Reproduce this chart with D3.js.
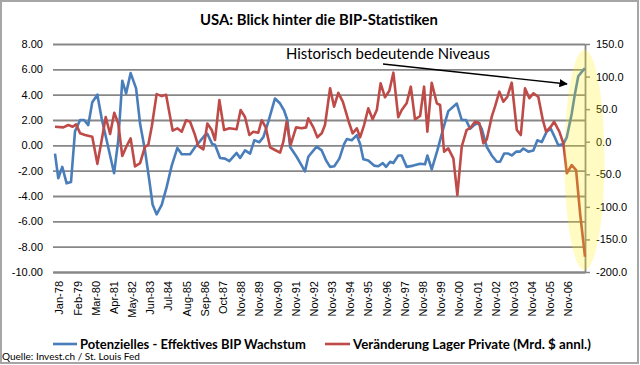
<!DOCTYPE html>
<html>
<head>
<meta charset="utf-8">
<script src="https://cdn.jsdelivr.net/npm/d3@7"></script>
<style>
  body { margin: 0; background: #fff; }
  svg { display: block; font-family: Lato, 'Open Sans', sans-serif; }
  .axis text { font-size: 11px; fill: #000; }
</style>
</head>
<body>
<div id="chart"></div>
<script>
// category labels along the bottom (one every ~13 / 12 months as in the source)
const xLabels = ['Jan-78', 'Feb-79', 'Mar-80', 'Apr-81', 'May-82', 'Jun-83', 'Jul-84', 'Aug-85',
  'Sep-86', 'Oct-87', 'Nov-88', 'Nov-89', 'Nov-90', 'Nov-91', 'Nov-92', 'Nov-93', 'Nov-94',
  'Nov-95', 'Nov-96', 'Nov-97', 'Nov-98', 'Nov-99', 'Nov-00', 'Nov-01', 'Nov-02', 'Nov-03',
  'Nov-04', 'Nov-05', 'Nov-06'];

const leftTicks = [-10, -8, -6, -4, -2, 0, 2, 4, 6, 8];
const rightTicks = [-200, -150, -100, -50, 0, 50, 100, 150];

// [position on label axis, value] - potential minus actual GDP growth (left axis)
const gapSeries = [
  [-0.22, -0.66], [-0.04, -2.6], [0.18, -1.7], [0.42, -3.0], [0.66, -2.9], [0.88, 1.1],
  [1.16, 2.0], [1.38, 2.0], [1.61, 1.6], [1.83, 3.4], [2.11, 4.0], [2.35, 2.1], [2.62, 0.4],
  [3.03, -2.2], [3.26, 0.4], [3.48, 5.1], [3.69, 4.1], [3.94, 5.7], [4.24, 4.5], [4.46, 1.7],
  [4.73, -0.4], [4.97, -2.8], [5.15, -4.7], [5.37, -5.45], [5.65, -4.7], [5.92, -3.3],
  [6.2, -1.6], [6.51, -0.2], [6.75, -0.7], [7.21, -0.7], [7.48, -0.15], [8.03, 0.8],
  [8.16, 0.9], [8.43, 0.1], [8.58, 0.05], [8.86, -1.0], [9.13, -1.05], [9.37, -1.25],
  [9.77, -0.6], [9.96, -1.0], [10.23, -0.4], [10.51, -0.65], [10.74, 0.4], [11.02, 0.25],
  [11.24, 0.65], [11.51, 1.85], [11.88, 3.7], [12.16, 3.3], [12.38, 2.75], [12.56, 2.0],
  [12.71, -0.13], [13.07, -0.9], [13.35, -1.6], [13.53, -2.05], [13.71, -0.9], [14.17, -0.1],
  [14.45, -0.4], [14.69, -1.2], [14.91, -1.7], [15.14, -1.65], [15.42, -1.05], [15.68, 0.1],
  [15.83, 0.5], [16.1, 0.4], [16.38, 0.8], [16.56, 0.1], [16.74, -1.1], [17.01, -1.2],
  [17.33, -1.6], [17.56, -1.65], [17.81, -1.4], [17.99, -1.7], [18.21, -1.3], [18.39, -1.4],
  [18.66, -0.8], [18.85, -0.8], [19.12, -1.7], [19.49, -1.6], [19.86, -1.45], [20.13, -1.5],
  [20.26, -0.8], [20.5, -1.9], [20.81, -0.4], [21.11, 1.2], [21.41, 2.7], [21.88, 3.3],
  [22.15, 2.0], [22.39, 2.0], [22.61, 1.3], [22.83, 1.6], [23.06, 1.8], [23.25, 1.3],
  [23.53, -0.13], [23.8, -0.8], [24.08, -1.3], [24.26, -1.3], [24.48, -0.65], [24.71, -0.65],
  [24.9, -0.8], [25.14, -0.5], [25.36, -0.5], [25.54, -0.25], [25.81, -0.5], [26.09, -0.4],
  [26.31, 0.4], [26.55, 0.25], [26.83, 1.1], [27.05, 1.3], [27.28, 0.6], [27.46, 0.0],
  [27.74, 0.1], [27.93, 0.65], [28.2, 2.5], [28.38, 4.1], [28.56, 5.45], [28.81, 5.9],
  [28.93, 6.1],
];

// [position on label axis, value] - change in private inventories, bn $ annualised (right axis)
const inventorySeries = [
  [-0.22, 23], [0.24, 22], [0.51, 25.6], [0.75, 23], [0.94, 26.7], [1.16, 12.9], [1.43, 10.3],
  [1.83, 7.7], [2.11, -34], [2.35, 2.6], [2.57, 38], [2.81, 11.8], [3.04, 44.5], [3.26, 28],
  [3.48, -22], [3.72, -6.6], [3.94, 5.2], [4.18, -38], [4.46, -33], [4.73, -7.7], [4.91, -5],
  [5.1, 23], [5.37, 73], [5.65, 70], [5.89, 72], [6.25, 17], [6.51, 20.6], [6.75, 15.4],
  [6.99, 33], [7.21, 30.7], [7.48, 10.3], [7.66, -6.6], [7.94, -11.7], [8.16, 28], [8.4, 18],
  [8.58, 2.6], [8.82, 64], [9.08, 18], [9.37, 20.6], [9.77, 19], [9.99, 48.7], [10.23, 38],
  [10.47, 10.3], [10.69, 15.4], [10.96, 13.8], [11.15, 33], [11.37, 22], [11.61, -8.6],
  [11.88, -12.7], [12.16, -16.9], [12.34, 0], [12.52, 30.7], [12.74, -5], [13.04, 22],
  [13.35, 20.6], [13.59, 22], [13.71, 36], [13.99, 22], [14.21, 6.8], [14.45, 12.9],
  [14.63, 25.6], [14.91, 82], [15.13, 53.8], [15.36, 75], [15.61, 61.4], [15.91, 33],
  [16.15, 12.9], [16.38, 20.6], [16.56, 6.8], [16.78, 25.6], [17.01, 51.3], [17.25, 34.4],
  [17.48, 48.7], [17.69, 89.7], [17.93, 68.2], [18.17, 78.3], [18.39, 106], [18.66, 37.5],
  [18.85, 48.7], [19.12, 59], [19.35, 84.5], [19.58, 34.4], [19.86, 39.5], [20.08, 84.5],
  [20.26, 15.4], [20.5, 90.6], [20.78, 59], [20.96, 56.4], [21.18, -15.4], [21.41, -10.1],
  [21.69, -25.5], [21.91, -81.9], [22.15, -7.7], [22.42, 18], [22.65, 22], [22.88, 30.7],
  [23.12, 28.3], [23.34, -2.5], [23.53, 3.7], [23.8, 38.4], [23.98, 53.8], [24.22, 76.8],
  [24.44, 61.4], [24.66, 69.1], [24.9, 90.6], [25.18, 18], [25.4, 10.3], [25.63, 82],
  [25.87, 66.7], [26.09, 74.3], [26.36, 69.1], [26.61, 33.3], [26.79, 15.4], [27.05, 23],
  [27.23, 30.7], [27.52, 15.4], [27.74, -2.5], [27.93, -48.5], [28.2, -35.8], [28.44, -43.5],
  [28.66, -110], [28.93, -176.6],
];

const seriesNames = ['Potenzielles - Effektives BIP Wachstum', 'Veränderung Lager Private (Mrd. $ annl.)'];
const seriesColors = ['#4a7ebb', '#be4b48'];

const width = 640;
const height = 365;
const plot = { left: 53, right: 585, top: 44, bottom: 272 };

// shrink / grow a text node so it spans the width it has in the original
function fitText(sel, target) {
  const node = sel.node();
  const size = parseFloat(sel.attr('font-size'));
  const len = node.getComputedTextLength();
  if (len > 0) sel.attr('font-size', (size * target / len).toFixed(2));
}

const svg = d3.select('#chart')
  .append('svg')
  .attr('width', width)
  .attr('height', height);

svg.append('rect')
  .attr('x', 1)
  .attr('y', 1)
  .attr('width', width - 3)
  .attr('height', height - 3)
  .attr('fill', '#fff')
  .attr('stroke', '#a6a6a6')
  .attr('stroke-width', 2);

const xScale = d3.scaleLinear()
  .domain([-0.33, 28.93])
  .range([plot.left, plot.right]);

const yLeft = d3.scaleLinear()
  .domain([-10, 8])
  .range([plot.bottom, plot.top]);

const yRight = d3.scaleLinear()
  .domain([-200, 150])
  .range([plot.bottom, plot.top]);

// gridlines
svg.append('g')
  .attr('class', 'grid')
  .attr('transform', `translate(${plot.left},0)`)
  .call(d3.axisLeft(yLeft)
    .tickValues(leftTicks)
    .tickSize(-(plot.right - plot.left))
    .tickFormat(''))
  .call((g) => g.select('.domain').remove())
  .call((g) => g.selectAll('line').attr('stroke', '#878787').attr('stroke-width', 1.8));

// left axis labels
svg.append('g')
  .attr('class', 'axis')
  .attr('transform', `translate(${plot.left},0)`)
  .call(d3.axisLeft(yLeft)
    .tickValues(leftTicks)
    .tickSize(0)
    .tickPadding(10)
    .tickFormat((d) => d.toFixed(2)))
  .call((g) => g.select('.domain').remove());

// bottom axis: category labels rotated
const xAxis = svg.append('g')
  .attr('class', 'axis')
  .attr('transform', `translate(0,${plot.bottom})`)
  .call(d3.axisBottom(xScale)
    .tickValues(d3.range(xLabels.length))
    .tickSize(0)
    .tickFormat((i) => xLabels[i]));

xAxis.select('.domain').attr('stroke', '#878787').attr('stroke-width', 1.8);
xAxis.selectAll('.tick text')
  .attr('transform', 'rotate(-90)')
  .attr('x', -9)
  .attr('y', 0)
  .attr('dy', '0.35em')
  .style('text-anchor', 'end');

// right axis
const rightAxis = svg.append('g')
  .attr('class', 'axis')
  .attr('transform', `translate(${plot.right},0)`)
  .call(d3.axisRight(yRight)
    .tickValues(rightTicks)
    .tickSize(5)
    .tickSizeOuter(0)
    .tickPadding(6)
    .tickFormat((d) => d.toFixed(1)));

rightAxis.select('.domain').attr('stroke', '#878787').attr('stroke-width', 1.8);
rightAxis.selectAll('.tick line').attr('stroke', '#878787').attr('stroke-width', 1.5);

// series lines
const gapLine = d3.line()
  .x((d) => xScale(d[0]))
  .y((d) => yLeft(d[1]));

const invLine = d3.line()
  .x((d) => xScale(d[0]))
  .y((d) => yRight(d[1]));

svg.append('path')
  .datum(gapSeries)
  .attr('fill', 'none')
  .attr('stroke', seriesColors[0])
  .attr('stroke-width', 2.6)
  .attr('stroke-linejoin', 'round')
  .attr('d', gapLine);

svg.append('path')
  .datum(inventorySeries)
  .attr('fill', 'none')
  .attr('stroke', seriesColors[1])
  .attr('stroke-width', 2.6)
  .attr('stroke-linejoin', 'round')
  .attr('d', invLine);

// highlight ellipse over the latest readings
const last = gapSeries[gapSeries.length - 1];
svg.append('ellipse')
  .attr('cx', xScale(last[0]) - 0.5)
  .attr('cy', 160)
  .attr('rx', 20)
  .attr('ry', 110)
  .attr('fill', '#ffee00')
  .attr('opacity', 0.24);

// annotation
svg.append('defs')
  .append('marker')
  .attr('id', 'arrow')
  .attr('viewBox', '0 0 10 10')
  .attr('refX', 9)
  .attr('refY', 5)
  .attr('markerWidth', 6)
  .attr('markerHeight', 6)
  .attr('orient', 'auto')
  .append('path')
  .attr('d', 'M0,0L10,5L0,10z')
  .attr('fill', '#000');

svg.append('line')
  .attr('x1', 383)
  .attr('y1', 64)
  .attr('x2', 567)
  .attr('y2', 84)
  .attr('stroke', '#000')
  .attr('stroke-width', 1.4)
  .attr('marker-end', 'url(#arrow)');

svg.append('text')
  .attr('x', 286)
  .attr('y', 59)
  .attr('font-size', 16)
  .text('Historisch bedeutende Niveaus')
  .call(fitText, 204);

// title
svg.append('text')
  .attr('x', 319)
  .attr('y', 25)
  .attr('text-anchor', 'middle')
  .attr('font-size', 15)
  .attr('font-weight', 'bold')
  .text('USA: Blick hinter die BIP-Statistiken')
  .call(fitText, 238);

// legend
const legendItems = [
  { x0: 53, x1: 77, tx: 80, w: 226 },
  { x0: 325, x1: 350, tx: 353, w: 238 },
];

const legend = svg.append('g').attr('class', 'legend');
legendItems.forEach((item, i) => {
  legend.append('line')
    .attr('x1', item.x0)
    .attr('x2', item.x1)
    .attr('y1', 344)
    .attr('y2', 344)
    .attr('stroke', seriesColors[i])
    .attr('stroke-width', 2.6);
  legend.append('text')
    .attr('x', item.tx)
    .attr('y', 349)
    .attr('font-size', 14)
    .attr('font-weight', 'bold')
    .text(seriesNames[i])
    .call(fitText, item.w);
});

svg.append('text')
  .attr('x', 2)
  .attr('y', 360)
  .attr('font-size', 11)
  .text('Quelle: Invest.ch / St. Louis Fed')
  .call(fitText, 138);
</script>
</body>
</html>
